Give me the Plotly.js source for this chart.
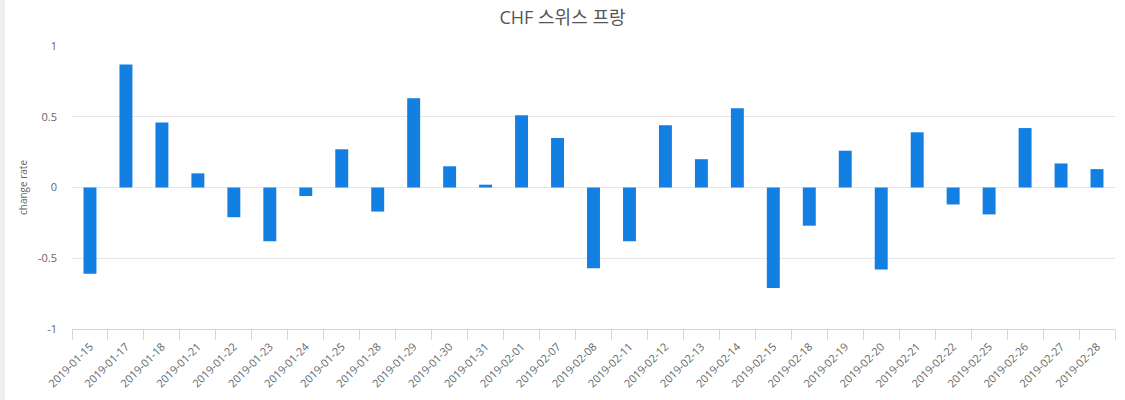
<!DOCTYPE html>
<html>
<head>
<meta charset="utf-8">
<script src="https://cdn.plot.ly/plotly-3.0.1.min.js"></script>
<style>
  body { margin: 0; background: #fff; }
  #strip { position: absolute; left: 0; top: 0; width: 5px; height: 400px; background: #eceef2; z-index: 2; }
  #chart { width: 1125px; height: 400px; }
</style>
</head>
<body>
<div id="strip"></div>
<div id="chart"></div>
<script>
// datas (categorias) e taxa de variação do CHF
const dates = [
  '2019-01-15', '2019-01-17', '2019-01-18', '2019-01-21', '2019-01-22',
  '2019-01-23', '2019-01-24', '2019-01-25', '2019-01-28', '2019-01-29',
  '2019-01-30', '2019-01-31', '2019-02-01', '2019-02-07', '2019-02-08',
  '2019-02-11', '2019-02-12', '2019-02-13', '2019-02-14', '2019-02-15',
  '2019-02-18', '2019-02-19', '2019-02-20', '2019-02-21', '2019-02-22',
  '2019-02-25', '2019-02-26', '2019-02-27', '2019-02-28'
];
const changeRate = [
  -0.61, 0.87, 0.46, 0.10, -0.21,
  -0.38, -0.06, 0.27, -0.17, 0.63,
  0.15, 0.02, 0.51, 0.35, -0.57,
  -0.38, 0.44, 0.20, 0.56, -0.71,
  -0.27, 0.26, -0.58, 0.39, -0.12,
  -0.19, 0.42, 0.17, 0.13
];
const yTicks = [-1, -0.5, 0, 0.5, 1];
const yTickText = ['-1', '-0.5', '0', '0.5', '1'];

const fontFamily = '"Open Sans", "Noto Sans CJK KR", sans-serif';

const data = [{
  type: 'bar',
  x: dates,
  y: changeRate,
  marker: { color: '#137fe3' },
  hoverinfo: 'x+y'
}];

const layout = {
  paper_bgcolor: '#fff',
  plot_bgcolor: '#fff',
  margin: { l: 72, r: 10, t: 46, b: 71 },
  showlegend: false,
  bargap: 0.64,
  font: { family: fontFamily, color: '#666', size: 11 },
  title: {
    text: 'CHF 스위스 프랑',
    x: 0.5,
    xref: 'container',
    xanchor: 'center',
    y: 0.955,
    yref: 'container',
    yanchor: 'middle',
    font: { family: fontFamily, size: 18, color: '#555' }
  },
  xaxis: {
    type: 'category',
    tickangle: -45,
    tickson: 'boundaries',
    ticks: 'outside',
    ticklen: 10,
    tickcolor: '#ccd6eb',
    ticklabelstandoff: 6,
    showline: true,
    linecolor: '#ccd6eb',
    linewidth: 1,
    showgrid: false,
    tickfont: { size: 11, color: '#666' }
  },
  yaxis: {
    range: [-1, 1],
    tickvals: yTicks,
    ticktext: yTickText,
    showgrid: true,
    gridcolor: '#e6e6e6',
    zeroline: false,
    showline: false,
    ticks: '',
    ticklabelstandoff: 14,
    tickfont: { size: 11, color: '#666' },
    title: { text: 'change rate', standoff: 8, font: { size: 10, color: '#666' } }
  }
};

Plotly.newPlot('chart', data, layout, { displayModeBar: false });
</script>
</body>
</html>
